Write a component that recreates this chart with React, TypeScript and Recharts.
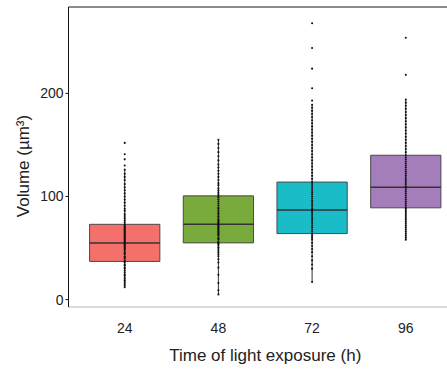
import {
  ComposedChart,
  XAxis,
  YAxis,
  Scatter,
  ReferenceArea,
  ReferenceLine,
} from "recharts"

const categories = ["24", "48", "72", "96"]
const boxColors = ["#F3716A", "#79AA3C", "#1ABCC7", "#A47DBB"]

// box statistics
const q1 = [37, 55, 64, 89]
const medians = [55, 73, 87, 109]
const q3 = [73, 100.6, 114, 140]
const whiskerLow = [12, 5, 17, 58]
const whiskerHigh = [127, 155, 189, 194]

const volumes24 = [
  12, 14, 16, 18, 19, 21, 23, 24, 26, 28, 30, 31, 33, 34, 36, 37, 38, 40, 41, 42,
  44, 45, 46, 48, 49, 50, 51, 52, 53, 54, 55, 55, 56, 57, 58, 59, 60, 61, 62, 63,
  64, 65, 66, 67, 68, 69, 70, 71, 72, 73, 75, 77, 79, 81, 83, 86, 88, 91, 94, 97,
  100, 103, 106, 109, 112, 116, 119, 122, 126, 130, 136, 141, 152,
]
const volumes48 = [
  5, 9, 16, 24, 31, 36, 39, 42, 44, 46, 48, 50, 51, 53, 54, 55, 56, 58, 59, 60,
  62, 63, 64, 65, 66, 67, 68, 69, 70, 71, 72, 73, 74, 75, 76, 77, 78, 80, 81, 83,
  84, 86, 88, 89, 91, 93, 95, 97, 99, 100, 102, 104, 106, 108, 111, 113, 116, 119,
  122, 125, 128, 131, 135, 139, 143, 147, 151, 155,
]
const volumes72 = [
  17, 30, 34, 38, 42, 46, 49, 52, 55, 58, 60, 62, 64, 66, 68, 70, 72, 74, 76, 78,
  80, 82, 84, 86, 87, 88, 90, 92, 94, 96, 98, 100, 102, 104, 106, 108, 110, 112,
  114, 117, 120, 123, 126, 129, 132, 135, 138, 141, 144, 147, 150, 153, 156, 159,
  162, 165, 168, 171, 174, 177, 180, 183, 186, 189, 193, 205, 224, 244, 268,
]
const volumes96 = [
  58, 60, 62, 64, 66, 68, 70, 72, 74, 76, 78, 80, 82, 84, 86, 88, 89, 91, 93, 95,
  97, 99, 101, 103, 105, 107, 109, 110, 112, 114, 116, 118, 120, 122, 124, 126,
  128, 130, 132, 134, 136, 138, 140, 143, 146, 149, 152, 155, 158, 161, 164, 167,
  170, 173, 176, 179, 182, 185, 188, 191, 194, 218, 254,
]
const volumes = [volumes24, volumes48, volumes72, volumes96]

const yTicks = [0, 100, 200]
const Y_MIN = -7.2
const Y_MAX = 283.8
const HALF_BOX = 0.375

const points = volumes.flatMap((vals, i) => vals.map((v) => ({ x: i + 1, y: v })))

const font = "'Liberation Sans', Arial, sans-serif"

function Dot(props: any) {
  if (props.cx == null || props.cy == null) return null
  return <circle cx={props.cx} cy={props.cy} r={1.05} fill="#111" />
}

function YTitle(props: any) {
  const vb = props.viewBox
  const cx = vb.x + 23
  const cy = vb.y + vb.height / 2 + 9
  return (
    <text
      x={cx}
      y={cy}
      transform={`rotate(-90 ${cx} ${cy})`}
      textAnchor="middle"
      dominantBaseline="central"
      fontSize={17}
      fontFamily={font}
      fill="#222"
    >
      Volume (µm³)
    </text>
  )
}

export default function App() {
  return (
    <div
      style={{
        position: "absolute",
        left: 0,
        top: 0,
        width: 447,
        height: 369,
        overflow: "hidden",
        background: "#fff",
      }}
    >
      <ComposedChart
        width={462}
        height={369}
        data={points}
        margin={{ top: 7, right: 0, bottom: 0, left: 0 }}
      >
        <XAxis
          type="number"
          dataKey="x"
          domain={[0.4, 4.6]}
          ticks={[1, 2, 3, 4]}
          tickFormatter={(v) => categories[v - 1]}
          allowDataOverflow
          height={62}
          stroke="#b5b5b5"
          tickLine={false}
          tickMargin={10}
          tick={{ fill: "#222", fontSize: 14, fontFamily: font }}
          label={{
            value: "Time of light exposure (h)",
            position: "insideBottom",
            offset: 8,
            fontSize: 17,
            fontFamily: font,
            fill: "#222",
          }}
        />
        <YAxis
          type="number"
          dataKey="y"
          domain={[Y_MIN, Y_MAX]}
          ticks={yTicks}
          allowDataOverflow
          width={68.5}
          stroke="#111"
          tickSize={3}
          tickMargin={2}
          tick={{ fill: "#222", fontSize: 14, fontFamily: font }}
          label={<YTitle />}
        />
        <ReferenceLine y={Y_MAX} stroke="#8c8c8c" strokeWidth={2} />
        {categories.map((c, i) => (
          <ReferenceLine
            key={`wl-${c}`}
            segment={[
              { x: i + 1, y: whiskerLow[i] },
              { x: i + 1, y: q1[i] },
            ]}
            stroke="#333"
            strokeWidth={1}
          />
        ))}
        {categories.map((c, i) => (
          <ReferenceLine
            key={`wh-${c}`}
            segment={[
              { x: i + 1, y: q3[i] },
              { x: i + 1, y: whiskerHigh[i] },
            ]}
            stroke="#333"
            strokeWidth={1}
          />
        ))}
        {categories.map((c, i) => (
          <ReferenceArea
            key={`box-${c}`}
            x1={i + 1 - HALF_BOX}
            x2={i + 1 + HALF_BOX}
            y1={q1[i]}
            y2={q3[i]}
            fill={boxColors[i]}
            fillOpacity={1}
            stroke="#4a4a4a"
            strokeWidth={1}
          />
        ))}
        {categories.map((c, i) => (
          <ReferenceLine
            key={`med-${c}`}
            segment={[
              { x: i + 1 - HALF_BOX, y: medians[i] },
              { x: i + 1 + HALF_BOX, y: medians[i] },
            ]}
            stroke="#333"
            strokeWidth={1.5}
          />
        ))}
        <Scatter data={points} shape={<Dot />} isAnimationActive={false} />
      </ComposedChart>
    </div>
  )
}
